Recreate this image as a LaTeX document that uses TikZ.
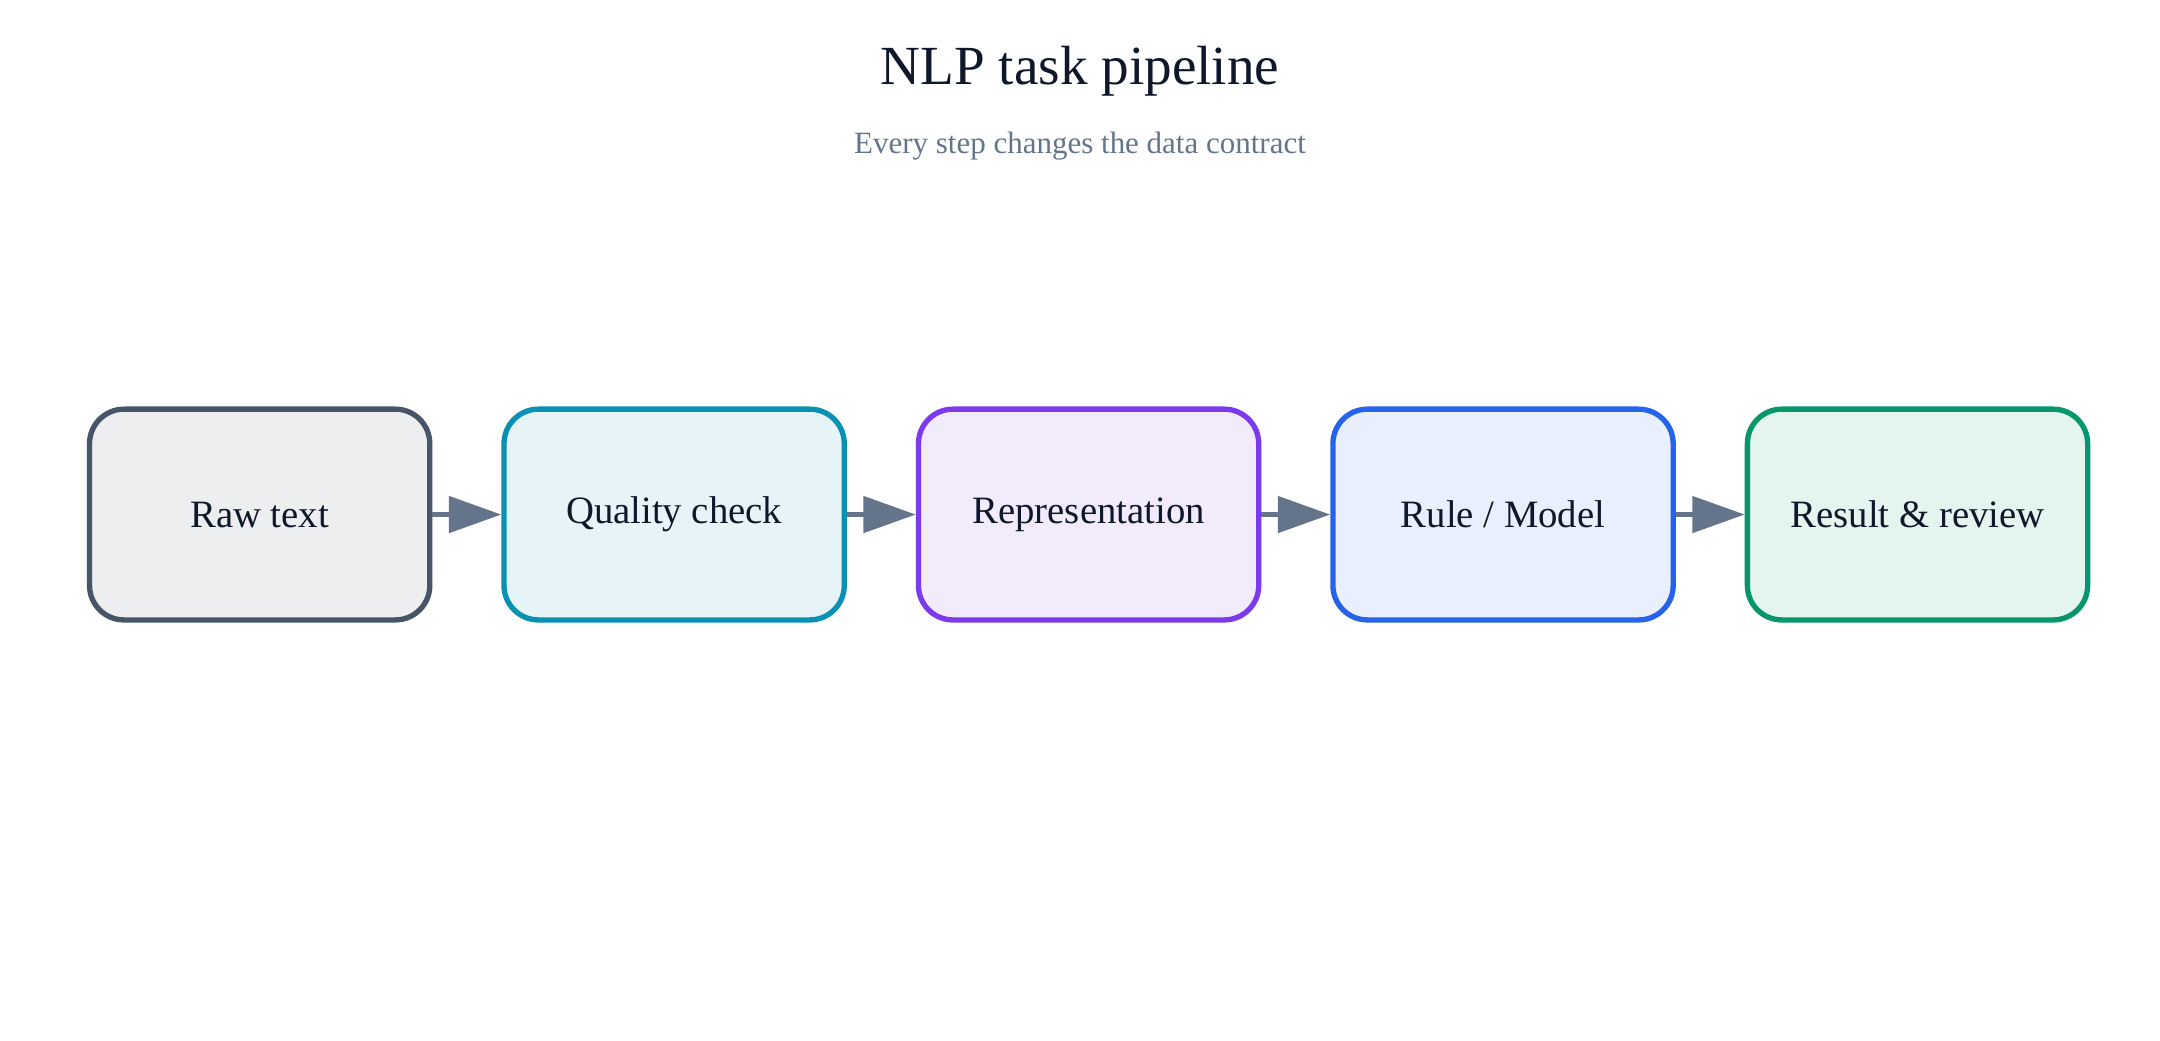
\documentclass[tikz,border=0pt]{standalone}
\usepackage{fontspec}
\setmainfont{Liberation Serif}
\usetikzlibrary{positioning,arrows.meta}
\definecolor{inkdark}{HTML}{0F172A}
\definecolor{slategray}{HTML}{64748B}
\definecolor{rawline}{HTML}{475569}\definecolor{rawfill}{HTML}{EDEEF0}
\definecolor{qualline}{HTML}{0891B2}\definecolor{qualfill}{HTML}{E6F4F7}
\definecolor{repline}{HTML}{7C3AED}\definecolor{repfill}{HTML}{F2EBFC}
\definecolor{ruleline}{HTML}{2563EB}\definecolor{rulefill}{HTML}{E9EFFC}
\definecolor{resline}{HTML}{059669}\definecolor{resfill}{HTML}{E4F4EE}
\tikzset{
	stage/.style={draw, line width=1.1pt, rounded corners=0.25cm, minimum width=2.47cm, minimum height=1.53cm, font=\fontsize{8}{10}\selectfont, text=inkdark},
	flow/.style={draw=slategray, line width=1.1pt, -{Triangle[length=0.38cm,width=0.26cm]}}
}
\begin{document}
\begin{tikzpicture}[node distance=0.5cm]
		%frame
		\useasboundingbox (0,0) rectangle (15.68,-7.55);
		
		%title
		\node[text=inkdark, font=\fontsize{11.4}{13}\selectfont] (title) at (7.84,-0.52) {NLP task pipeline};
		\node[text=slategray, font=\fontsize{6.4}{8}\selectfont] (subtitle) at (7.84,-1.06) {Every step changes the data contract};
		
		%stages
		\node[stage, draw=rawline, fill=rawfill] (raw) at (1.885,-3.735) {Raw text};
		\node[stage, draw=qualline, fill=qualfill, right=of raw] (quality) {Quality check};
		\node[stage, draw=repline, fill=repfill, right=of quality] (repr) {Representation};
		\node[stage, draw=ruleline, fill=rulefill, right=of repr] (model) {Rule / Model};
		\node[stage, draw=resline, fill=resfill, right=of model] (result) {Result \& review};
		
		%arrows
		\foreach \a/\b in {raw/quality, quality/repr, repr/model, model/result}
			\draw[flow] (\a) -- (\b);
	\end{tikzpicture}
\end{document}
